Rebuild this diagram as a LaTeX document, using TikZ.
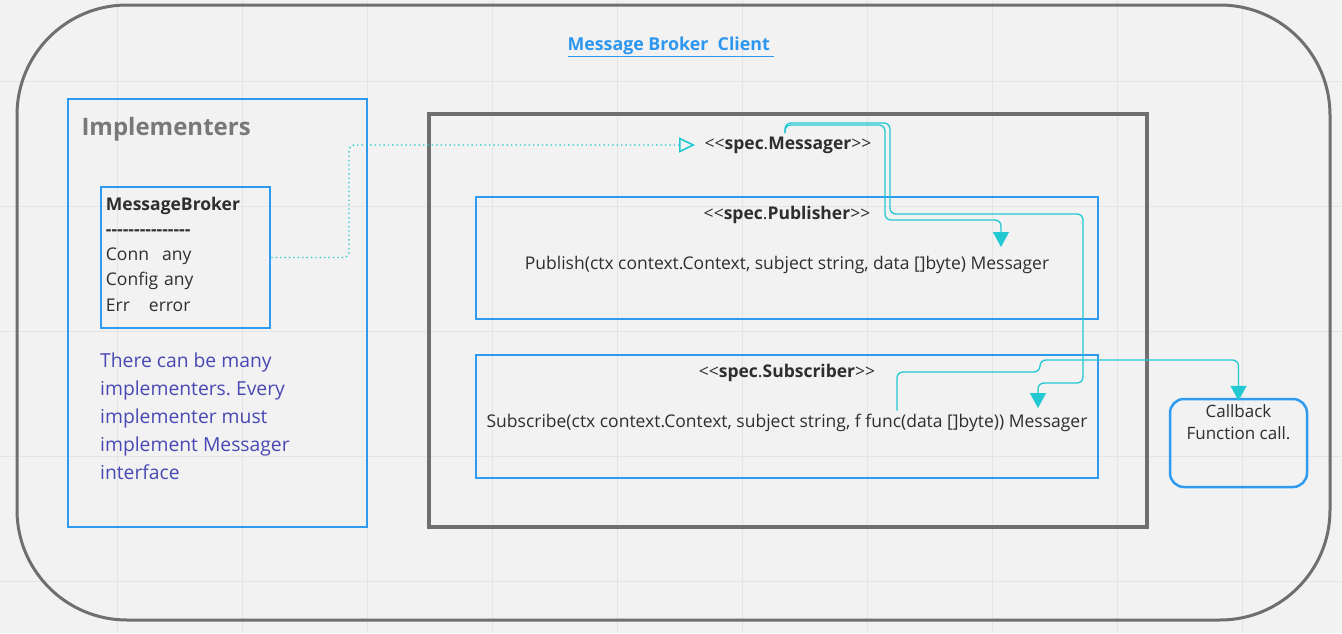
\documentclass[tikz,border=0pt]{standalone}
\usepackage{fontspec}
\setmainfont{Open Sans}
\usepackage{xcolor}
\usetikzlibrary{positioning, arrows.meta, calc}
\definecolor{canvas}{HTML}{F2F2F2}
\definecolor{gridline}{HTML}{E4E4E4}
\definecolor{framegray}{HTML}{6F6F6F}
\definecolor{boxblue}{HTML}{2E9BF0}
\definecolor{titleblue}{HTML}{2D96EE}
\definecolor{linkcyan}{HTML}{22C8D2}
\definecolor{notetext}{HTML}{4848B4}
\definecolor{headgray}{HTML}{787878}
\definecolor{bodytext}{HTML}{2E2E2E}
\newcommand{\lang}{<\kern0pt<}
\newcommand{\rang}{>\kern0pt>}
\newcommand{\dashrow}{\foreach \i in {1,...,15}{-\kern0pt}}
\frenchspacing

\begin{document}
\begin{tikzpicture}[x=1pt, y=-1pt,
 font=\fontsize{17.5}{21}\selectfont, text=bodytext,
 frame/.style={draw=framegray, line width=3pt},
 ubox/.style={draw=boxblue, line width=2.5pt},
 flow/.style={linkcyan, line width=1.3pt, rounded corners=6pt, -{Triangle[width=16pt, length=15pt]}},
 implink/.style={linkcyan, line width=1.4pt, dash pattern=on 1.4pt off 3pt, rounded corners=5pt,
   -{Triangle[open, width=15pt, length=16pt, line width=1.6pt]}}]
\useasboundingbox (0,0) rectangle (1342,633);
\fill[canvas] (0,0) rectangle (1342,633);
\foreach \gx in {117,242,...,1242} \draw[gridline] (\gx,0) -- (\gx,633);
\foreach \gy in {81,206,...,581} \draw[gridline] (0,\gy) -- (1342,\gy);

% client frame and title
\node[frame, rounded corners=110pt, minimum width=1313pt, minimum height=615pt] (client) at (673.5,312.5) {};
\node[text=titleblue, font=\bfseries\fontsize{17.8}{21}\selectfont] (title) at (671,47) {\underline{Message Broker\ \ Client\ }};

% implementers
\node[ubox, minimum width=299pt, minimum height=428pt] (impl) at (217.5,313) {};
\node[anchor=west, text=headgray, font=\bfseries\fontsize{24}{28}\selectfont] (impltitle) at (78,129) {Implementers};
\node[ubox, minimum width=169pt, minimum height=141pt] (broker) at (185.5,257.5) {};
\node[below right=0pt and 0pt of broker.north west, yshift=-7pt, text width=157pt, inner xsep=6pt, inner ysep=4pt, align=left,
  font=\fontsize{17.5}{25.2}\selectfont] (brokertext)
  {\textbf{MessageBroker}\\\textbf{\dashrow}\\Conn\hspace{13pt}any\\Config any\\Err\hspace{19pt}error};
\node[anchor=north west, align=left, text=notetext, font=\fontsize{19.3}{28}\selectfont, inner sep=0pt] (note) at (100,353)
  {There can be many\\implementers. Every\\implementer must\\implement Messager\\interface};

% spec interfaces
\node[draw=framegray, line width=3.5pt, minimum width=718pt, minimum height=413pt] (spec) at (788,320.5) {};
\node (msgr) at (788,145) {\lang\textbf{spec}.\textbf{Messager}\rang};
\node[ubox, minimum width=622pt, minimum height=122pt] (pub) at (787,258) {};
\node (pubname) at (787,215) {\lang\textbf{spec}.\textbf{Publisher}\rang};
\node (pubop) at (787,265) {Publish(ctx context.Context, subject string, data []byte) Messager};
\node[ubox, minimum width=622pt, minimum height=123pt] (sub) at (787,416.5) {};
\node (subname) at (787,373) {\lang\textbf{spec}.\textbf{Subscriber}\rang};
\node (subop) at (787,423) {Subscribe(ctx context.Context, subject string, f func(data []byte)) Messager};

% callback
\node[ubox, rounded corners=14pt, minimum width=137pt, minimum height=88pt] (cb) at (1238.5,443) {};
\node[align=center, inner sep=0pt, font=\fontsize{17}{22}\selectfont] (cbtext) at (1238.5,422) {Callback\\Function call.};

\coordinate (pubtip) at (1001,247);
\coordinate (subtip) at (1038,408);

\draw[implink] (broker.east) -| (349,200) |- ([xshift=-6pt]msgr.west);
\draw[flow] ([xshift=-3pt]msgr.north) |- (885,125) -- (885,220) -| (pubtip);
\draw[flow] ([xshift=-3pt]msgr.north) |- (890,123) -- (890,214) -- (1083,214) -- (1083,383) -| (subtip);
\draw[flow] ([xshift=110pt]subop.north) |- (1040,372) -- (1040,360) -| ([yshift=-3pt]cb.north);

\end{tikzpicture}
\end{document}
